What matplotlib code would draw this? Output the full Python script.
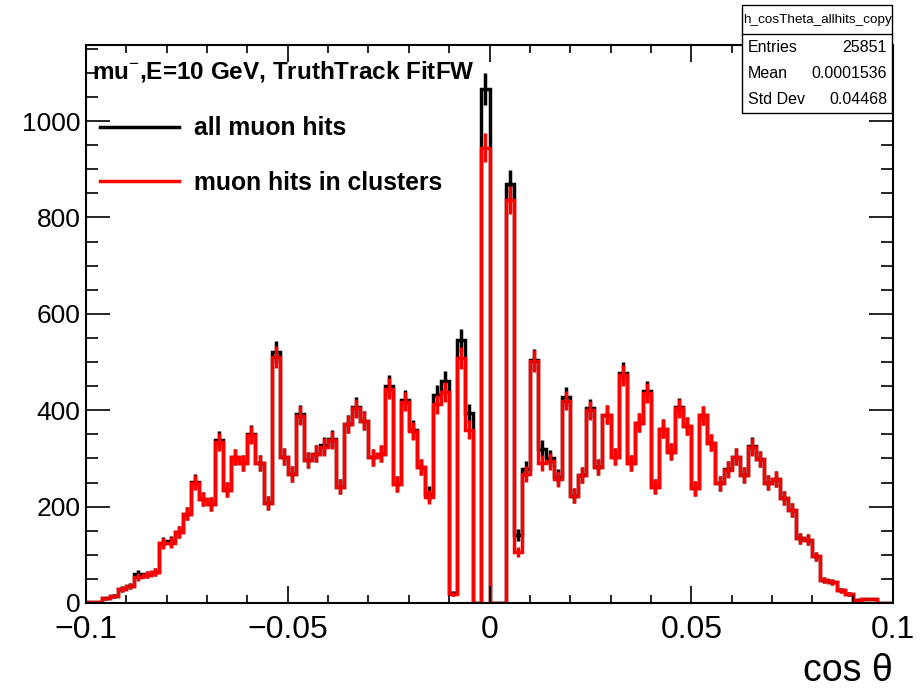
import numpy as np
import matplotlib
matplotlib.use("Agg")
import matplotlib.pyplot as plt
from matplotlib.lines import Line2D
from matplotlib.patches import Rectangle
from matplotlib.ticker import MultipleLocator

plt.rcParams['font.family'] = ['Liberation Sans', 'DejaVu Sans']
plt.rcParams['mathtext.fontset'] = 'custom'
plt.rcParams['mathtext.rm'] = 'Liberation Sans'
plt.rcParams['mathtext.bf'] = 'Liberation Sans:bold'

# cos(theta) histogram, 100 bins from -0.1 to 0.1
bin_lo, bin_hi, n_bins = -0.1, 0.1, 100

all_hits = [
    2, 2, 10, 15, 29, 36, 60, 59, 65, 125,
    128, 148, 185, 252, 215, 206, 338, 235, 303, 290,
    351, 291, 207, 520, 304, 268, 392, 297, 310, 327,
    340, 241, 371, 407, 378, 302, 310, 451, 247, 421,
    360, 283, 227, 431, 460, 20, 545, 394, 0, 1067,
    0, 0, 869, 141, 279, 505, 320, 300, 262, 428,
    223, 266, 404, 283, 391, 304, 478, 290, 374, 440,
    241, 362, 314, 406, 367, 238, 390, 333, 248, 279,
    304, 266, 326, 299, 250, 257, 218, 193, 134, 131,
    97, 48, 44, 26, 19, 6, 8, 8, 1, 1,
]

cluster_hits = [
    2, 2, 10, 15, 29, 36, 54, 59, 65, 124,
    125, 148, 185, 250, 215, 206, 334, 235, 303, 290,
    348, 291, 207, 511, 304, 268, 389, 297, 310, 324,
    338, 241, 371, 404, 378, 302, 310, 445, 247, 418,
    357, 283, 220, 412, 438, 18, 508, 360, 0, 945,
    0, 0, 836, 105, 268, 502, 290, 294, 257, 420,
    223, 266, 400, 283, 391, 304, 473, 290, 374, 436,
    241, 362, 314, 404, 367, 238, 390, 333, 248, 277,
    304, 266, 324, 299, 250, 257, 218, 193, 134, 131,
    97, 48, 44, 26, 19, 6, 8, 8, 1, 1,
]

legend_labels = ["all muon hits", "muon hits in clusters"]
stat_rows = [("Entries", "25851"), ("Mean", "0.0001536"), ("Std Dev", "0.04468")]

edges = np.linspace(bin_lo, bin_hi, n_bins + 1)
centers = 0.5 * (edges[:-1] + edges[1:])

fig = plt.figure(figsize=(9.23, 6.9), dpi=100)
ax = fig.add_axes([0.0932, 0.1261, 0.8743, 0.8087])

lw = 2.5
for vals, col in [(all_hits, 'black'), (cluster_hits, 'red')]:
    vals = np.array(vals, dtype=float)
    ax.stairs(vals, edges, color=col, linewidth=lw, baseline=None)
    nz = vals > 0
    ax.errorbar(centers[nz], vals[nz], yerr=np.sqrt(vals[nz]), fmt='none',
                ecolor=col, elinewidth=lw, capsize=0)

ax.set_xlim(bin_lo, bin_hi)
ax.set_ylim(0, 1158)

ax.xaxis.set_major_locator(MultipleLocator(0.05))
ax.xaxis.set_minor_locator(MultipleLocator(0.01))
ax.yaxis.set_major_locator(MultipleLocator(200))
ax.yaxis.set_minor_locator(MultipleLocator(50))
ax.set_xticks([-0.1, -0.05, 0, 0.05, 0.1])
ax.set_xticklabels(["\u22120.1", "\u22120.05", "0", "0.05", "0.1"])

ax.tick_params(axis='both', which='both', direction='in', top=True, right=True, width=1.2)
ax.tick_params(axis='x', which='major', length=12, labelsize=23, pad=9)
ax.tick_params(axis='x', which='minor', length=6)
ax.tick_params(axis='y', which='major', length=17, labelsize=19, pad=4)
ax.tick_params(axis='y', which='minor', length=8.5)
for sp in ax.spines.values():
    sp.set_linewidth(1.5)

ax.set_xlabel("cos \u03b8", fontsize=27, loc='right')
ax.xaxis.set_label_coords(1.0, -0.09)

ax.text(0.0074, 0.9516, r"mu$^{-}$,E=10 GeV, TruthTrack FitFW",
        transform=ax.transAxes, fontsize=17.5, fontweight='bold', va='center', ha='left')

handles = [Line2D([], [], color='black', linewidth=lw), Line2D([], [], color='red', linewidth=lw)]
leg = ax.legend(handles, legend_labels, loc='upper left', bbox_to_anchor=(0.017, 0.872),
                frameon=False, prop={'weight': 'bold', 'size': 17.8}, handlelength=3.2,
                handletextpad=0.6, labelspacing=1.22, borderpad=0, borderaxespad=0)

# statistics box
x0, x1, y0, y1, yh = 742 / 923, 892 / 923, 1 - 113 / 690, 1 - 5 / 690, 1 - 34 / 690
fig.patches.append(Rectangle((x0, y0), x1 - x0, y1 - y0, transform=fig.transFigure,
                             facecolor='white', edgecolor='black', linewidth=1.0, zorder=5))
fig.lines.append(Line2D([x0, x1], [yh, yh], transform=fig.transFigure, color='black',
                        linewidth=1.0, zorder=6))
fig.text((x0 + x1) / 2, 1 - 20 / 690, "h_cosTheta_allhits_copy", ha='center', va='center',
         fontsize=9.7, zorder=7)
for k, (name, val) in enumerate(stat_rows):
    yy = 1 - (47 + 26.5 * k) / 690
    fig.text(748 / 923, yy, name, ha='left', va='center', fontsize=11.5, zorder=7)
    fig.text(887 / 923, yy, val, ha='right', va='center', fontsize=11.5, zorder=7)

fig.savefig("out.png", dpi=100)
